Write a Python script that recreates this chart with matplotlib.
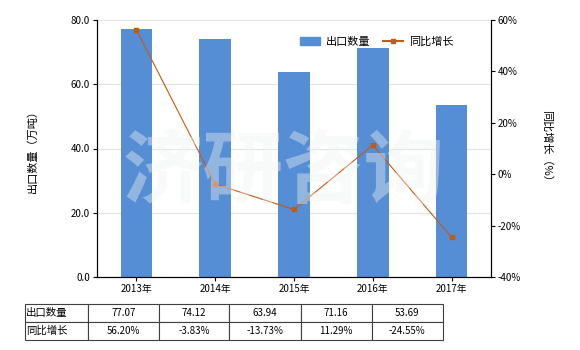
import numpy as np
import matplotlib
matplotlib.use("Agg")
import matplotlib.pyplot as plt
from matplotlib.patches import Patch
from matplotlib.lines import Line2D

plt.rcParams['font.family'] = ['Noto Sans CJK SC', 'DejaVu Sans']

years = ["2013年", "2014年", "2015年", "2016年", "2017年"]
qty = [77.07, 74.12, 63.94, 71.16, 53.69]
yoy = [56.20, -3.83, -13.73, 11.29, -24.55]
qty_lbl = ["77.07", "74.12", "63.94", "71.16", "53.69"]
yoy_lbl = ["56.20%", "-3.83%", "-13.73%", "11.29%", "-24.55%"]

bar_c = "#558ED5"
line_c = "#C55A11"
fs = 7

fig = plt.figure(figsize=(5.8, 3.5), dpi=100)
ax = fig.add_axes([97/580, 1-277/350, 394/580, 257/350])
x = np.arange(len(years))
ax.bar(x, qty, width=0.4, color=bar_c, zorder=2)
ax.set_xlim(-0.5, len(years)-0.5)
ax.set_ylim(0, 80)
ax.set_yticks([0, 20, 40, 60, 80])
ax.set_yticklabels([f"{v:.1f}" for v in [0, 20, 40, 60, 80]], fontsize=fs)
ax.set_xticks(x)
ax.set_xticklabels(years, fontsize=fs)
ax.grid(axis="y", color="#e4e4e4", lw=0.8, zorder=0)
ax.spines["top"].set_visible(False)
ax.tick_params(length=3, width=0.8, pad=2)
ax.set_ylabel("出口数量（万吨）", fontsize=fs+1, labelpad=24)

ax2 = ax.twinx()
ax2.plot(x, yoy, color=line_c, lw=0.8, marker="s", ms=3.5, zorder=3)
ax2.set_ylim(-40, 60)
ax2.set_yticks([-40, -20, 0, 20, 40, 60])
ax2.set_yticklabels([f"{v}%" for v in [-40, -20, 0, 20, 40, 60]], fontsize=fs)
ax2.spines["top"].set_visible(False)
ax2.tick_params(length=3, width=0.8, pad=2)
ax2.set_ylabel("同比增长（%）", fontsize=fs+1, rotation=270, labelpad=22)

# faint watermark over the plot
fig.text(0.488, 0.503, "济研咨询", fontsize=58, color="#eef3f3", alpha=0.4,
         ha="center", va="center", fontweight="bold", zorder=10)

handles = [Patch(color=bar_c, label="出口数量"),
           Line2D([0], [0], color=line_c, lw=1.5, marker="s", ms=3, label="同比增长")]
ax2.legend(handles=handles, loc="upper right", bbox_to_anchor=(0.93, 0.975), ncol=2,
           frameon=False, fontsize=fs+1, handlelength=1.8, handleheight=0.8,
           columnspacing=1.2, handletextpad=0.5)

# table under the axes
cells = [["出口数量"] + qty_lbl, ["同比增长"] + yoy_lbl]
col_px = [62.7, 71.3, 70.3, 71.4, 71.0, 71.0]
tw = sum(col_px)
tb = ax.table(cellText=cells, colWidths=[c/tw for c in col_px], cellLoc="center",
              bbox=[(25-97)/394, (277-340)/257, tw/394, 36/257])
tb.auto_set_font_size(False)
tb.set_fontsize(fs)
for (r, c), cell in tb.get_celld().items():
    cell.set_edgecolor("#404040")
    cell.set_linewidth(0.8)
    if c == 0:
        cell.get_text().set_ha("left")
        cell.PAD = 0.02
        cell.get_text().set_fontsize(fs+0.5)

fig.savefig("out.png", dpi=100)
